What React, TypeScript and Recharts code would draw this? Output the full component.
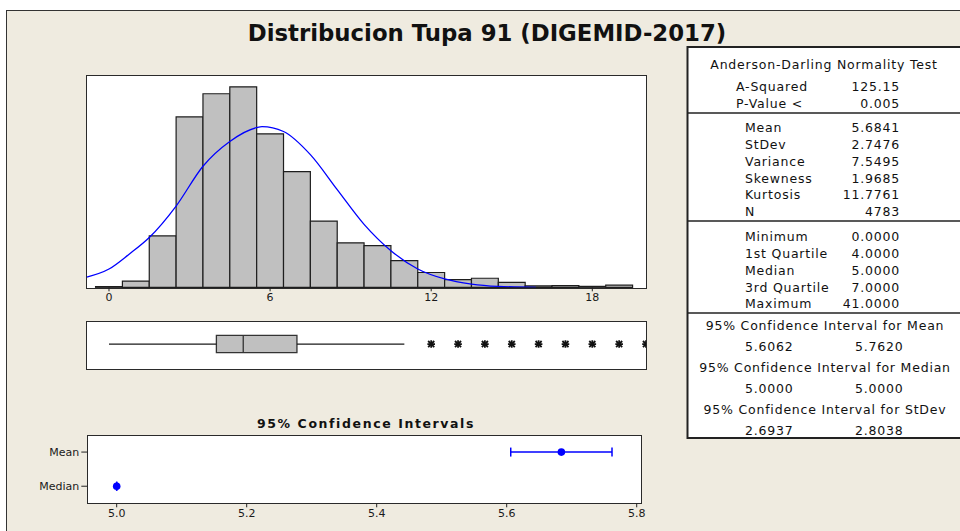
import React from 'react';
import {
  ComposedChart,
  ScatterChart,
  Line,
  Scatter,
  ErrorBar,
  XAxis,
  YAxis,
  ReferenceArea,
  ReferenceLine,
} from 'recharts';

// histogram bins (integer values, width 1)
const binCenters = [0, 1, 2, 3, 4, 5, 6, 7, 8, 9, 10, 11, 12, 13, 14, 15, 16, 17, 18, 19];
const binCounts = [3, 27, 222, 736, 836, 866, 663, 500, 286, 192, 180, 115, 64, 33, 39, 21, 6, 7, 4, 9];

// fitted normal curve
const curveX = [-0.83, 0, 0.75, 1.5, 2.5, 3.5, 4.5, 5.5, 5.7, 6.5, 7.5, 8.5, 9.5, 10.5, 11.5, 12.5, 13.5, 14.5, 15.9];
const curveY = [44, 79, 143, 215, 351, 523, 630, 690, 694, 673, 573, 422, 272, 158, 79, 36, 14, 4, 0];

const histTicks = [0, 6, 12, 18];

// boxplot
const whiskerLow = 0;
const q1 = 4;
const median = 5;
const q3 = 7;
const whiskerHigh = 11;
const outliers = [12, 13, 14, 15, 16, 17, 18, 19, 20];

// 95% confidence intervals
const ciNames = ['Median', 'Mean'];
const ciCenter = [5.0, 5.6841];
const ciLow = [5.0, 5.6062];
const ciHigh = [5.0, 5.762];
const ciTicks = [5.0, 5.2, 5.4, 5.6, 5.8];

// summary table
const adLabels = ['A-Squared', 'P-Value <'];
const adValues = ['125.15', '0.005'];
const momentLabels = ['Mean', 'StDev', 'Variance', 'Skewness', 'Kurtosis', 'N'];
const momentValues = ['5.6841', '2.7476', '7.5495', '1.9685', '11.7761', '4783'];
const quantLabels = ['Minimum', '1st Quartile', 'Median', '3rd Quartile', 'Maximum'];
const quantValues = ['0.0000', '4.0000', '5.0000', '7.0000', '41.0000'];
const ciTitles = [
  '95% Confidence Interval for Mean',
  '95% Confidence Interval for Median',
  '95% Confidence Interval for StDev',
];
const ciTableValues = [
  ['5.6062', '5.7620'],
  ['5.0000', '5.0000'],
  ['2.6937', '2.8038'],
];

const curveData = curveX.map((x, i) => ({ x, d: curveY[i] }));
const outlierData = outliers.map((x) => ({ x, y: 0.52 }));
const ciData = ciNames.map((name, i) => ({
  name,
  x: ciCenter[i],
  err: [ciCenter[i] - ciLow[i], ciHigh[i] - ciCenter[i]],
}));

const FONT = '"DejaVu Sans", Verdana, sans-serif';
const BEIGE = '#EFEBE0';
const tickStyle = { fontSize: 11, fill: '#1a1a1a', fontFamily: FONT };

const Asterisk = (props: any) => {
  const { cx, cy } = props;
  const r = 3.8;
  const d = r * 0.8;
  return (
    <g stroke="#111" strokeWidth={1.8}>
      <line x1={cx - r} y1={cy} x2={cx + r} y2={cy} />
      <line x1={cx} y1={cy - r} x2={cx} y2={cy + r} />
      <line x1={cx - d} y1={cy - d} x2={cx + d} y2={cy + d} />
      <line x1={cx - d} y1={cy + d} x2={cx + d} y2={cy - d} />
    </g>
  );
};

const Dot = (props: any) => <circle cx={props.cx} cy={props.cy} r={3.8} fill="#0000ff" />;

const frame = (left: number, top: number, width: number, height: number): React.CSSProperties => ({
  position: 'absolute',
  left,
  top,
  width,
  height,
  boxSizing: 'border-box',
  border: '1.5px solid #2a2a2a',
  background: '#fff',
});

const abs = (left: number, top: number): React.CSSProperties => ({ position: 'absolute', left, top });

export default function App() {
  const tableText = { fontFamily: FONT, fontSize: 12.5, fill: '#111', letterSpacing: 0.8 };
  return (
    <div style={{ position: 'absolute', left: 0, top: 0, width: 960, height: 531, overflow: 'hidden', background: '#fff' }}>
      {/* beige panel */}
      <div
        style={{
          position: 'absolute',
          left: 6,
          top: 10,
          width: 980,
          height: 540,
          background: BEIGE,
          borderTop: '1.5px solid #333',
          borderLeft: '1.5px solid #333',
        }}
      />
      <div
        style={{
          ...abs(0, 18),
          width: 974,
          textAlign: 'center',
          fontFamily: FONT,
          fontWeight: 'bold',
          fontSize: 22.8,
          color: '#111',
          lineHeight: '30px',
        }}
      >
        Distribucion Tupa 91 (DIGEMID-2017)
      </div>

      {/* histogram */}
      <div style={frame(86, 74.5, 561, 214)} />
      <div style={abs(0, 0)}>
        <ComposedChart width={700} height={320} margin={{ top: 75, right: 54, bottom: 2.7, left: 86.7 }}>
          <XAxis
            dataKey="x"
            type="number"
            domain={[-0.83, 20]}
            allowDataOverflow
            ticks={histTicks}
            axisLine={false}
            tickSize={4}
            tickLine={{ stroke: '#222' }}
            tick={tickStyle}
            height={30}
          />
          <YAxis hide type="number" domain={[0, 917]} allowDataOverflow />
          {binCenters.map((c, i) => (
            <ReferenceArea
              key={c}
              x1={c - 0.5}
              x2={c + 0.5}
              y1={0}
              y2={binCounts[i]}
              fill="#C0C0C0"
              fillOpacity={1}
              stroke="#1e1e1e"
              strokeWidth={1.2}
              ifOverflow="visible"
            />
          ))}
          <Line
            data={curveData}
            dataKey="d"
            type="monotone"
            stroke="#0000ff"
            strokeWidth={1.3}
            dot={false}
            activeDot={false}
            isAnimationActive={false}
          />
        </ComposedChart>
      </div>

      {/* boxplot */}
      <div style={frame(86, 320.5, 561, 49)} />
      <div style={abs(0, 321)}>
        <ComposedChart width={700} height={48} margin={{ top: 0, right: 54, bottom: 0, left: 86.7 }}>
          <XAxis hide dataKey="x" type="number" domain={[-0.83, 20]} allowDataOverflow />
          <YAxis hide dataKey="y" type="number" domain={[0, 1]} />
          <ReferenceLine
            segment={[{ x: whiskerLow, y: 0.52 }, { x: q1, y: 0.52 }]}
            stroke="#1a1a1a"
            strokeWidth={1.3}
          />
          <ReferenceLine
            segment={[{ x: q3, y: 0.52 }, { x: whiskerHigh, y: 0.52 }]}
            stroke="#1a1a1a"
            strokeWidth={1.3}
          />
          <ReferenceArea x1={q1} x2={q3} y1={0.34} y2={0.7} fill="#C0C0C0" fillOpacity={1} stroke="#333" strokeWidth={1.3} />
          <ReferenceLine
            segment={[{ x: median, y: 0.34 }, { x: median, y: 0.7 }]}
            stroke="#333"
            strokeWidth={1.3}
          />
          <Scatter data={outlierData} dataKey="y" shape={<Asterisk />} isAnimationActive={false} />
        </ComposedChart>
      </div>

      {/* confidence intervals */}
      <div
        style={{
          ...abs(166, 415),
          width: 400,
          textAlign: 'center',
          fontFamily: FONT,
          fontWeight: 'bold',
          fontSize: 12.5,
          letterSpacing: 1.6,
          color: '#111',
          lineHeight: '18px',
        }}
      >
        95% Confidence Intervals
      </div>
      <div style={frame(86.5, 434.5, 555, 69.5)} />
      <div style={abs(0, 420)}>
        <ScatterChart width={700} height={111} margin={{ top: 15, right: 59, bottom: 2.7, left: 0 }}>
          <XAxis
            dataKey="x"
            type="number"
            domain={[4.9548, 5.8066]}
            allowDataOverflow
            ticks={ciTicks}
            tickFormatter={(v: number) => v.toFixed(1)}
            axisLine={false}
            tickSize={4}
            tickLine={{ stroke: '#222' }}
            tick={tickStyle}
            height={25}
          />
          <YAxis
            dataKey="name"
            type="category"
            width={87.3}
            axisLine={false}
            tickSize={6}
            tickLine={{ stroke: '#222' }}
            tick={tickStyle}
          />
          <Scatter data={ciData} shape={<Dot />} isAnimationActive={false}>
            <ErrorBar dataKey="err" direction="x" width={4.5} stroke="#0000ff" strokeWidth={1.5} />
          </Scatter>
        </ScatterChart>
      </div>

      {/* summary table */}
      <svg style={abs(0, 0)} width={960} height={531}>
        <rect x={687.5} y={47} width={300} height={391} fill="#fff" stroke="#222" strokeWidth={2} />
        <line x1={687} x2={960} y1={113} y2={113} stroke="#222" strokeWidth={1.5} />
        <line x1={687} x2={960} y1={221} y2={221} stroke="#222" strokeWidth={1.5} />
        <line x1={687} x2={960} y1={313} y2={313} stroke="#222" strokeWidth={1.5} />
        <text x={824} y={64.7} textAnchor="middle" dominantBaseline="central" style={tableText}>
          Anderson-Darling Normality Test
        </text>
        {adLabels.map((l, i) => (
          <g key={l}>
            <text x={736} y={86.7 + i * 16.6} dominantBaseline="central" style={tableText}>
              {l}
            </text>
            <text x={900} y={86.7 + i * 16.6} textAnchor="end" dominantBaseline="central" style={tableText}>
              {adValues[i]}
            </text>
          </g>
        ))}
        {momentLabels.map((l, i) => (
          <g key={l}>
            <text x={745} y={127.3 + i * 16.9} dominantBaseline="central" style={tableText}>
              {l}
            </text>
            <text x={900} y={127.3 + i * 16.9} textAnchor="end" dominantBaseline="central" style={tableText}>
              {momentValues[i]}
            </text>
          </g>
        ))}
        {quantLabels.map((l, i) => (
          <g key={l}>
            <text x={745} y={236.7 + i * 16.8} dominantBaseline="central" style={tableText}>
              {l}
            </text>
            <text x={900} y={236.7 + i * 16.8} textAnchor="end" dominantBaseline="central" style={tableText}>
              {quantValues[i]}
            </text>
          </g>
        ))}
        {ciTitles.map((t, i) => (
          <g key={t}>
            <text x={825} y={325 + i * 42} textAnchor="middle" dominantBaseline="central" style={tableText}>
              {t}
            </text>
            <text x={769.3} y={346.7 + i * 41.7} textAnchor="middle" dominantBaseline="central" style={tableText}>
              {ciTableValues[i][0]}
            </text>
            <text x={879.3} y={346.7 + i * 41.7} textAnchor="middle" dominantBaseline="central" style={tableText}>
              {ciTableValues[i][1]}
            </text>
          </g>
        ))}
      </svg>
    </div>
  );
}
